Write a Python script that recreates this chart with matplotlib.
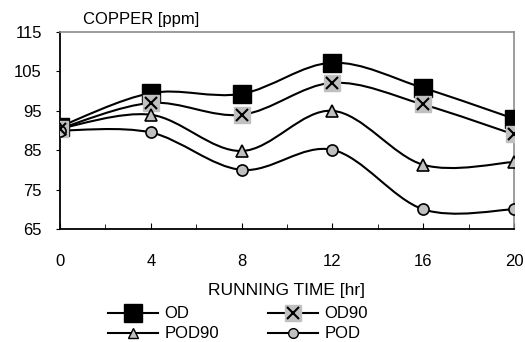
import matplotlib
matplotlib.use("Agg")
import matplotlib.pyplot as plt
import numpy as np
from matplotlib.path import Path
from matplotlib.patches import PathPatch
from matplotlib.lines import Line2D

plt.rcParams["font.family"] = ["Liberation Sans", "DejaVu Sans"]

hours = [0, 4, 8, 12, 16, 20]
od = [91, 99.5, 99.3, 107.2, 100.8, 93]
od90 = [90.5, 97, 94, 102.1, 96.6, 89]
pod90 = [90.5, 94, 84.8, 95, 81.3, 82]
pod = [90, 89.5, 80, 85.1, 70, 70]

GRAY = "#c0c0c0"
FS = 12


def smooth_path(xs, ys):
    # Excel-style smoothed line: Catmull-Rom converted to cubic Bezier
    pts = np.column_stack([xs, ys]).astype(float)
    n = len(pts)
    verts = [pts[0]]
    codes = [Path.MOVETO]
    for i in range(n - 1):
        p0 = pts[max(i - 1, 0)]
        p1 = pts[i]
        p2 = pts[i + 1]
        p3 = pts[min(i + 2, n - 1)]
        verts += [p1 + (p2 - p0) / 6, p2 - (p3 - p1) / 6, p2]
        codes += [Path.CURVE4] * 3
    return Path(verts, codes)


fig = plt.figure(figsize=(5.25, 3.42), dpi=100)
ax = fig.add_axes([60 / 525, 1 - 229 / 342, 454 / 525, 197 / 342])

for ys in [od, od90, pod90, pod]:
    ax.add_patch(PathPatch(smooth_path(hours, ys), facecolor="none",
                           edgecolor="black", linewidth=1.5, zorder=2))

ax.plot(hours, od, ls="none", marker="s", ms=13, mfc="black", mec="black", zorder=3)
ax.plot(hours, od90, ls="none", marker="s", ms=12, mfc=GRAY, mec=GRAY, zorder=3)
ax.plot(hours, od90, ls="none", marker="x", ms=9, mec="black", mew=1.5, zorder=4)
ax.plot(hours, pod90, ls="none", marker="^", ms=8, mfc=GRAY, mec="black", mew=1.2, zorder=3)
ax.plot(hours, pod, ls="none", marker="o", ms=8, mfc=GRAY, mec="black", mew=1.2, zorder=3)

ax.set_xlim(0, 20)
ax.set_ylim(65, 115)
ax.set_xticks(hours)
ax.set_xticks(range(2, 20, 4), minor=True)
ax.set_yticks([65, 75, 85, 95, 105, 115])
ax.tick_params(axis="x", which="both", direction="in", pad=18, labelsize=FS)
ax.tick_params(axis="x", which="major", length=4)
ax.tick_params(axis="x", which="minor", length=3.5)
ax.tick_params(axis="y", direction="out", length=3, pad=10, labelsize=FS)

for s in ["left", "bottom"]:
    ax.spines[s].set_linewidth(1.3)
    ax.spines[s].set_color("black")
for s in ["top", "right"]:
    ax.spines[s].set_linewidth(1.2)
    ax.spines[s].set_color("#8c8c8c")

ax.text(0.05, 1.025, "COPPER [ppm]", transform=ax.transAxes, fontsize=FS,
        ha="left", va="bottom")
ax.set_xlabel("RUNNING TIME [hr]", fontsize=12.5, labelpad=10)

h_od = Line2D([], [], color="black", lw=1.5, marker="s", ms=13, mfc="black", mec="black")
h_od90 = (Line2D([], [], color="black", lw=1.5, marker="s", ms=11, mfc=GRAY, mec=GRAY),
          Line2D([], [], ls="none", marker="x", ms=8, mec="black", mew=1.5))
h_pod90 = Line2D([], [], color="black", lw=1.5, marker="^", ms=7, mfc=GRAY, mec="black")
h_pod = Line2D([], [], color="black", lw=1.5, marker="o", ms=7, mfc=GRAY, mec="black")

fig.legend([h_od, h_pod90, h_od90, h_pod], ["OD", "POD90", "OD90", "POD"],
           ncol=2, loc="center left", bbox_to_anchor=(108 / 525, 1 - 324 / 342),
           frameon=False, fontsize=FS, handlelength=3.0, labelspacing=0.3,
           columnspacing=2.9, handletextpad=0.4, borderpad=0, borderaxespad=0)

fig.savefig("out.png", dpi=100)
